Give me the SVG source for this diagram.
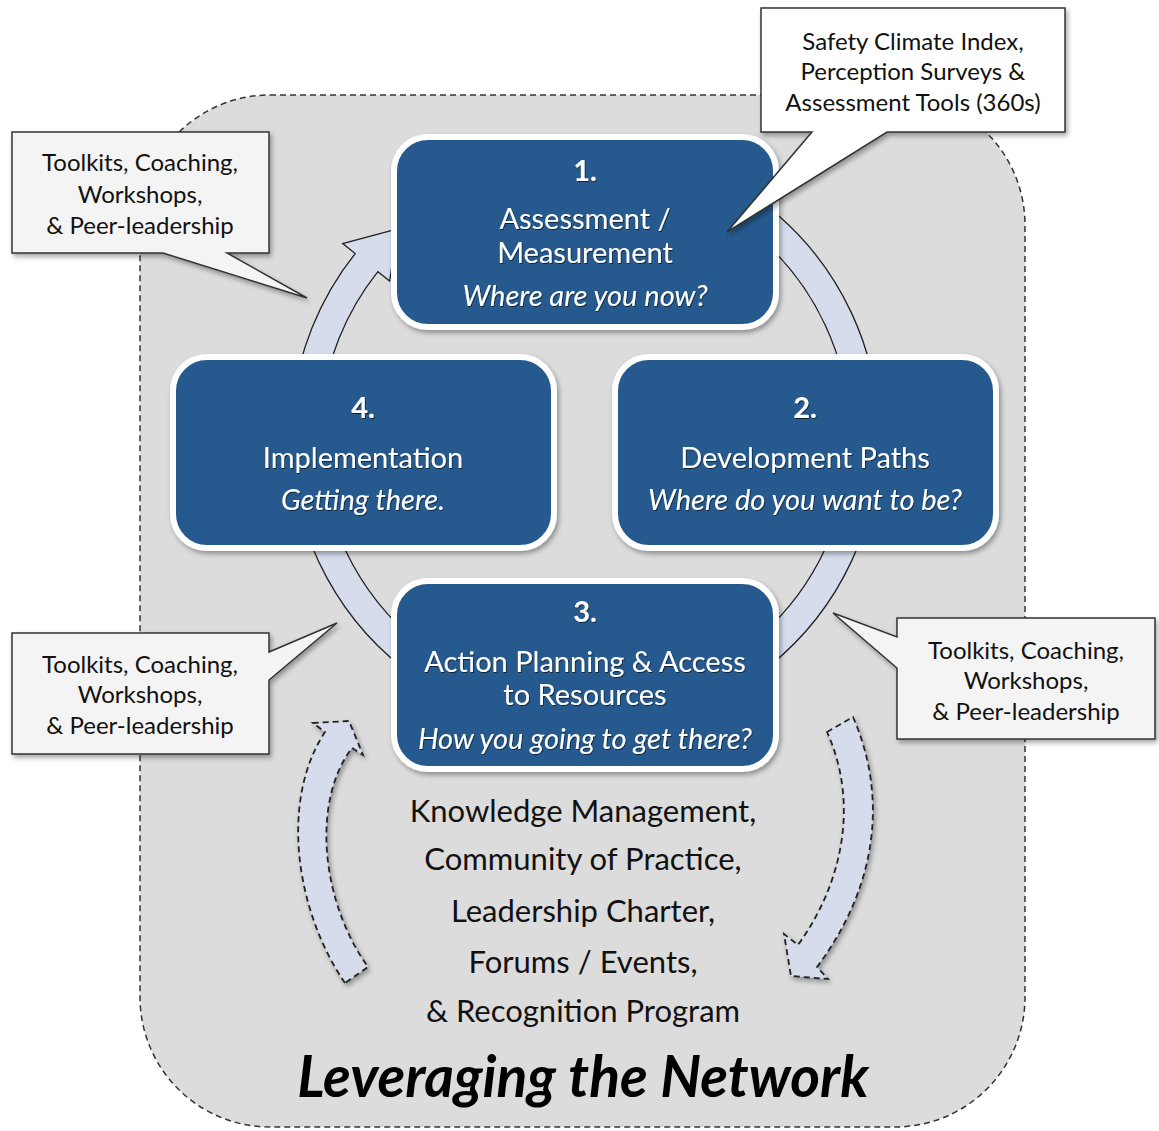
<svg xmlns="http://www.w3.org/2000/svg" width="1159" height="1131" viewBox="0 0 1159 1131">
<defs>
<filter id="sh" x="-10%" y="-10%" width="125%" height="125%">
<feDropShadow dx="2" dy="3" stdDeviation="2.5" flood-color="#000" flood-opacity="0.35"/>
</filter>
<filter id="tsh" x="-5%" y="-20%" width="110%" height="150%">
<feDropShadow dx="0.8" dy="1" stdDeviation="0.6" flood-color="#000" flood-opacity="0.6"/>
</filter>
</defs>
<style>
.bg{fill:#dcdcdc;stroke:#333;stroke-width:1.5;stroke-dasharray:6 4}
.ring{fill:#d6dcec;stroke:#222;stroke-width:1.3}
.dash{fill:#d6dcec;stroke:#222;stroke-width:1.8;stroke-dasharray:6 4}
.box{fill:#275a8e;stroke:#fff;stroke-width:6}
.call{stroke:#333;stroke-width:1.5}
.t{font-family:Lato,"Open Sans",sans-serif;text-anchor:middle}
.bt{font-family:Lato,"Open Sans",sans-serif;text-anchor:middle;fill:#fff;font-size:29px}
.num{font-weight:bold}
.it{font-style:italic}
.ct{font-family:Lato,"Open Sans",sans-serif;text-anchor:middle;fill:#111;font-size:24px}
.lt{font-family:Lato,"Open Sans",sans-serif;text-anchor:middle;fill:#111;font-size:31px}
</style>

<rect class="bg" x="140" y="95" width="885" height="1032" rx="130" ry="130"/>

<g id="connectors">
<path class="ring" d="M416.4,196.2 A294,294 0 1 1 292.1,462.6 L321.0,460.1 A265,265 0 1 0 433.0,219.9 Z"/>
<path class="ring" d="M292.1,411.4 A294,294 0 0 1 355.2,253.6 L342.7,243.6 L397.6,228.9 L389.6,281.0 L377.9,271.7 A265,265 0 0 0 321.0,413.9 Z"/>
<path class="dash" d="M345,983 C295,910 280,800 325,732 L313,723 L349,721 L363,755 L352,748 C312,800 320,900 368,967 Z" filter="url(#sh)"/>
<path class="dash" d="M827,732 L853,717 C885,790 882,880 817,967 L828,979 L791,976 L784,934 L798,945 C845,880 858,800 827,732 Z" filter="url(#sh)"/>
</g>

<g id="box1" filter="url(#sh)">
<rect class="box" x="394" y="137" width="382" height="190" rx="34"/>
<g filter="url(#tsh)">
<text class="bt num" x="585" y="181">1.</text>
<text class="bt" x="585" y="229">Assessment /</text>
<text class="bt" x="585" y="263">Measurement</text>
<text class="bt it" x="585" y="306">Where are you now?</text>
</g>
</g>

<g id="box4" filter="url(#sh)">
<rect class="box" x="173" y="357" width="381" height="191" rx="34"/>
<g filter="url(#tsh)">
<text class="bt num" x="363" y="418">4.</text>
<text class="bt" x="363" y="468">Implementation</text>
<text class="bt it" x="363" y="510">Getting there.</text>
</g>
</g>

<g id="box2" filter="url(#sh)">
<rect class="box" x="615" y="357" width="381" height="191" rx="34"/>
<g filter="url(#tsh)">
<text class="bt num" x="805" y="418">2.</text>
<text class="bt" x="805" y="468">Development Paths</text>
<text class="bt it" x="805" y="510">Where do you want to be?</text>
</g>
</g>

<g id="box3" filter="url(#sh)">
<rect class="box" x="394" y="581" width="382" height="188" rx="34"/>
<g filter="url(#tsh)">
<text class="bt num" x="585" y="622">3.</text>
<text class="bt" x="585" y="672">Action Planning &amp; Access</text>
<text class="bt" x="585" y="705">to Resources</text>
<text class="bt it" x="585" y="749">How you going to get there?</text>
</g>
</g>

<g id="callout-top-right">
<path class="call" fill="#fff" filter="url(#sh)" d="M761,8 H1065 V132 H887 L727,232 L812,132 H761 Z"/>
<text class="ct" x="913" y="50">Safety Climate Index,</text>
<text class="ct" x="913" y="80">Perception Surveys &amp;</text>
<text class="ct" x="913" y="111">Assessment Tools (360s)</text>
</g>

<g id="callout-top-left">
<path class="call" fill="#f4f4f4" filter="url(#sh)" d="M12,132 H269 V253 H227 L307,298 L163,253 H12 Z"/>
<text class="ct" x="140" y="171">Toolkits, Coaching,</text>
<text class="ct" x="140" y="203">Workshops,</text>
<text class="ct" x="140" y="234">&amp; Peer-leadership</text>
</g>

<g id="callout-bottom-left">
<path class="call" fill="#f4f4f4" filter="url(#sh)" d="M12,633 H269 V652 L337,623 L269,680 V754 H12 Z"/>
<text class="ct" x="140" y="673">Toolkits, Coaching,</text>
<text class="ct" x="140" y="703">Workshops,</text>
<text class="ct" x="140" y="734">&amp; Peer-leadership</text>
</g>

<g id="callout-bottom-right">
<path class="call" fill="#f4f4f4" filter="url(#sh)" d="M897,618 H1155 V739 H897 V668 L833,613 L897,637 Z"/>
<text class="ct" x="1026" y="659">Toolkits, Coaching,</text>
<text class="ct" x="1026" y="689">Workshops,</text>
<text class="ct" x="1026" y="720">&amp; Peer-leadership</text>
</g>

<g id="network-text">
<text class="lt" x="583" y="822">Knowledge Management,</text>
<text class="lt" x="583" y="870">Community of Practice,</text>
<text class="lt" x="583" y="922">Leadership Charter,</text>
<text class="lt" x="583" y="973">Forums / Events,</text>
<text class="lt" x="583" y="1022">&amp; Recognition Program</text>
<text class="t" x="583" y="1097" font-size="57" font-weight="bold" font-style="italic" fill="#000">Leveraging the Network</text>
</g>
</svg>
